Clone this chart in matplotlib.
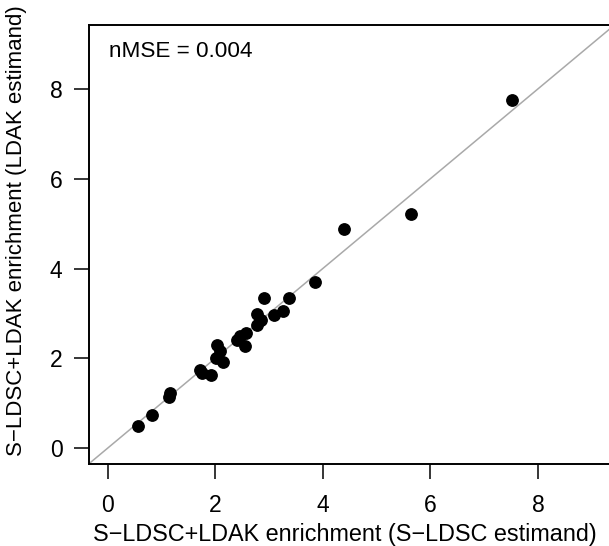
import numpy as np
import matplotlib
matplotlib.use("Agg")
import matplotlib.pyplot as plt

plt.rcParams['font.family'] = ['Liberation Sans', 'DejaVu Sans']

# enrichment estimates
sldsc_est = [0.57, 0.82, 1.16, 1.15, 1.71, 1.75, 1.93, 2.02, 2.15, 2.09, 2.04, 2.40, 2.46,
             2.57, 2.55, 2.78, 2.86, 2.78, 2.90, 3.09, 3.26, 3.38, 3.86, 4.39, 5.63, 7.51]
ldak_est = [0.49, 0.73, 1.24, 1.15, 1.74, 1.68, 1.62, 2.01, 1.93, 2.16, 2.30, 2.42, 2.49,
            2.56, 2.28, 2.75, 2.86, 2.99, 3.34, 2.96, 3.06, 3.34, 3.69, 4.88, 5.22, 7.75]
ticks = [0, 2, 4, 6, 8]
nmse_text = 'nMSE = 0.004'

fig = plt.figure(figsize=(6.09, 5.46), dpi=100)
ax = fig.add_axes([0.1456, 0.1502, 0.8634, 0.804])

lim = (-0.35, 9.42)
ax.plot(lim, lim, color='#a9a9a9', lw=1.1, zorder=1)
ax.plot(sldsc_est, ldak_est, 'o', color='black', ms=8.2, zorder=2)
ax.set_xlim(lim)
ax.set_ylim(lim)

ax.set_xticks(ticks)
ax.set_yticks(ticks)
for s in ax.spines.values():
    s.set_linewidth(1.4)
ax.tick_params(axis='both', length=10.8, width=1.1, labelsize=16.5)
ax.tick_params(axis='x', pad=11)
ax.tick_params(axis='y', pad=8)

ax.text(0.0386, 0.927, nmse_text, transform=ax.transAxes, fontsize=16.2,
        ha='left', va='baseline')

fig.text(345 / 609, 5 / 546, 'S\u2212LDSC+LDAK enrichment (S\u2212LDSC estimand)',
         fontsize=16.8, ha='center', va='baseline')
fig.text(17 / 609, 1 - 231 / 546, 'S\u2212LDSC+LDAK enrichment (LDAK estimand)',
         fontsize=16, ha='center', va='center', rotation=90)

fig.savefig('out.png', dpi=100)
